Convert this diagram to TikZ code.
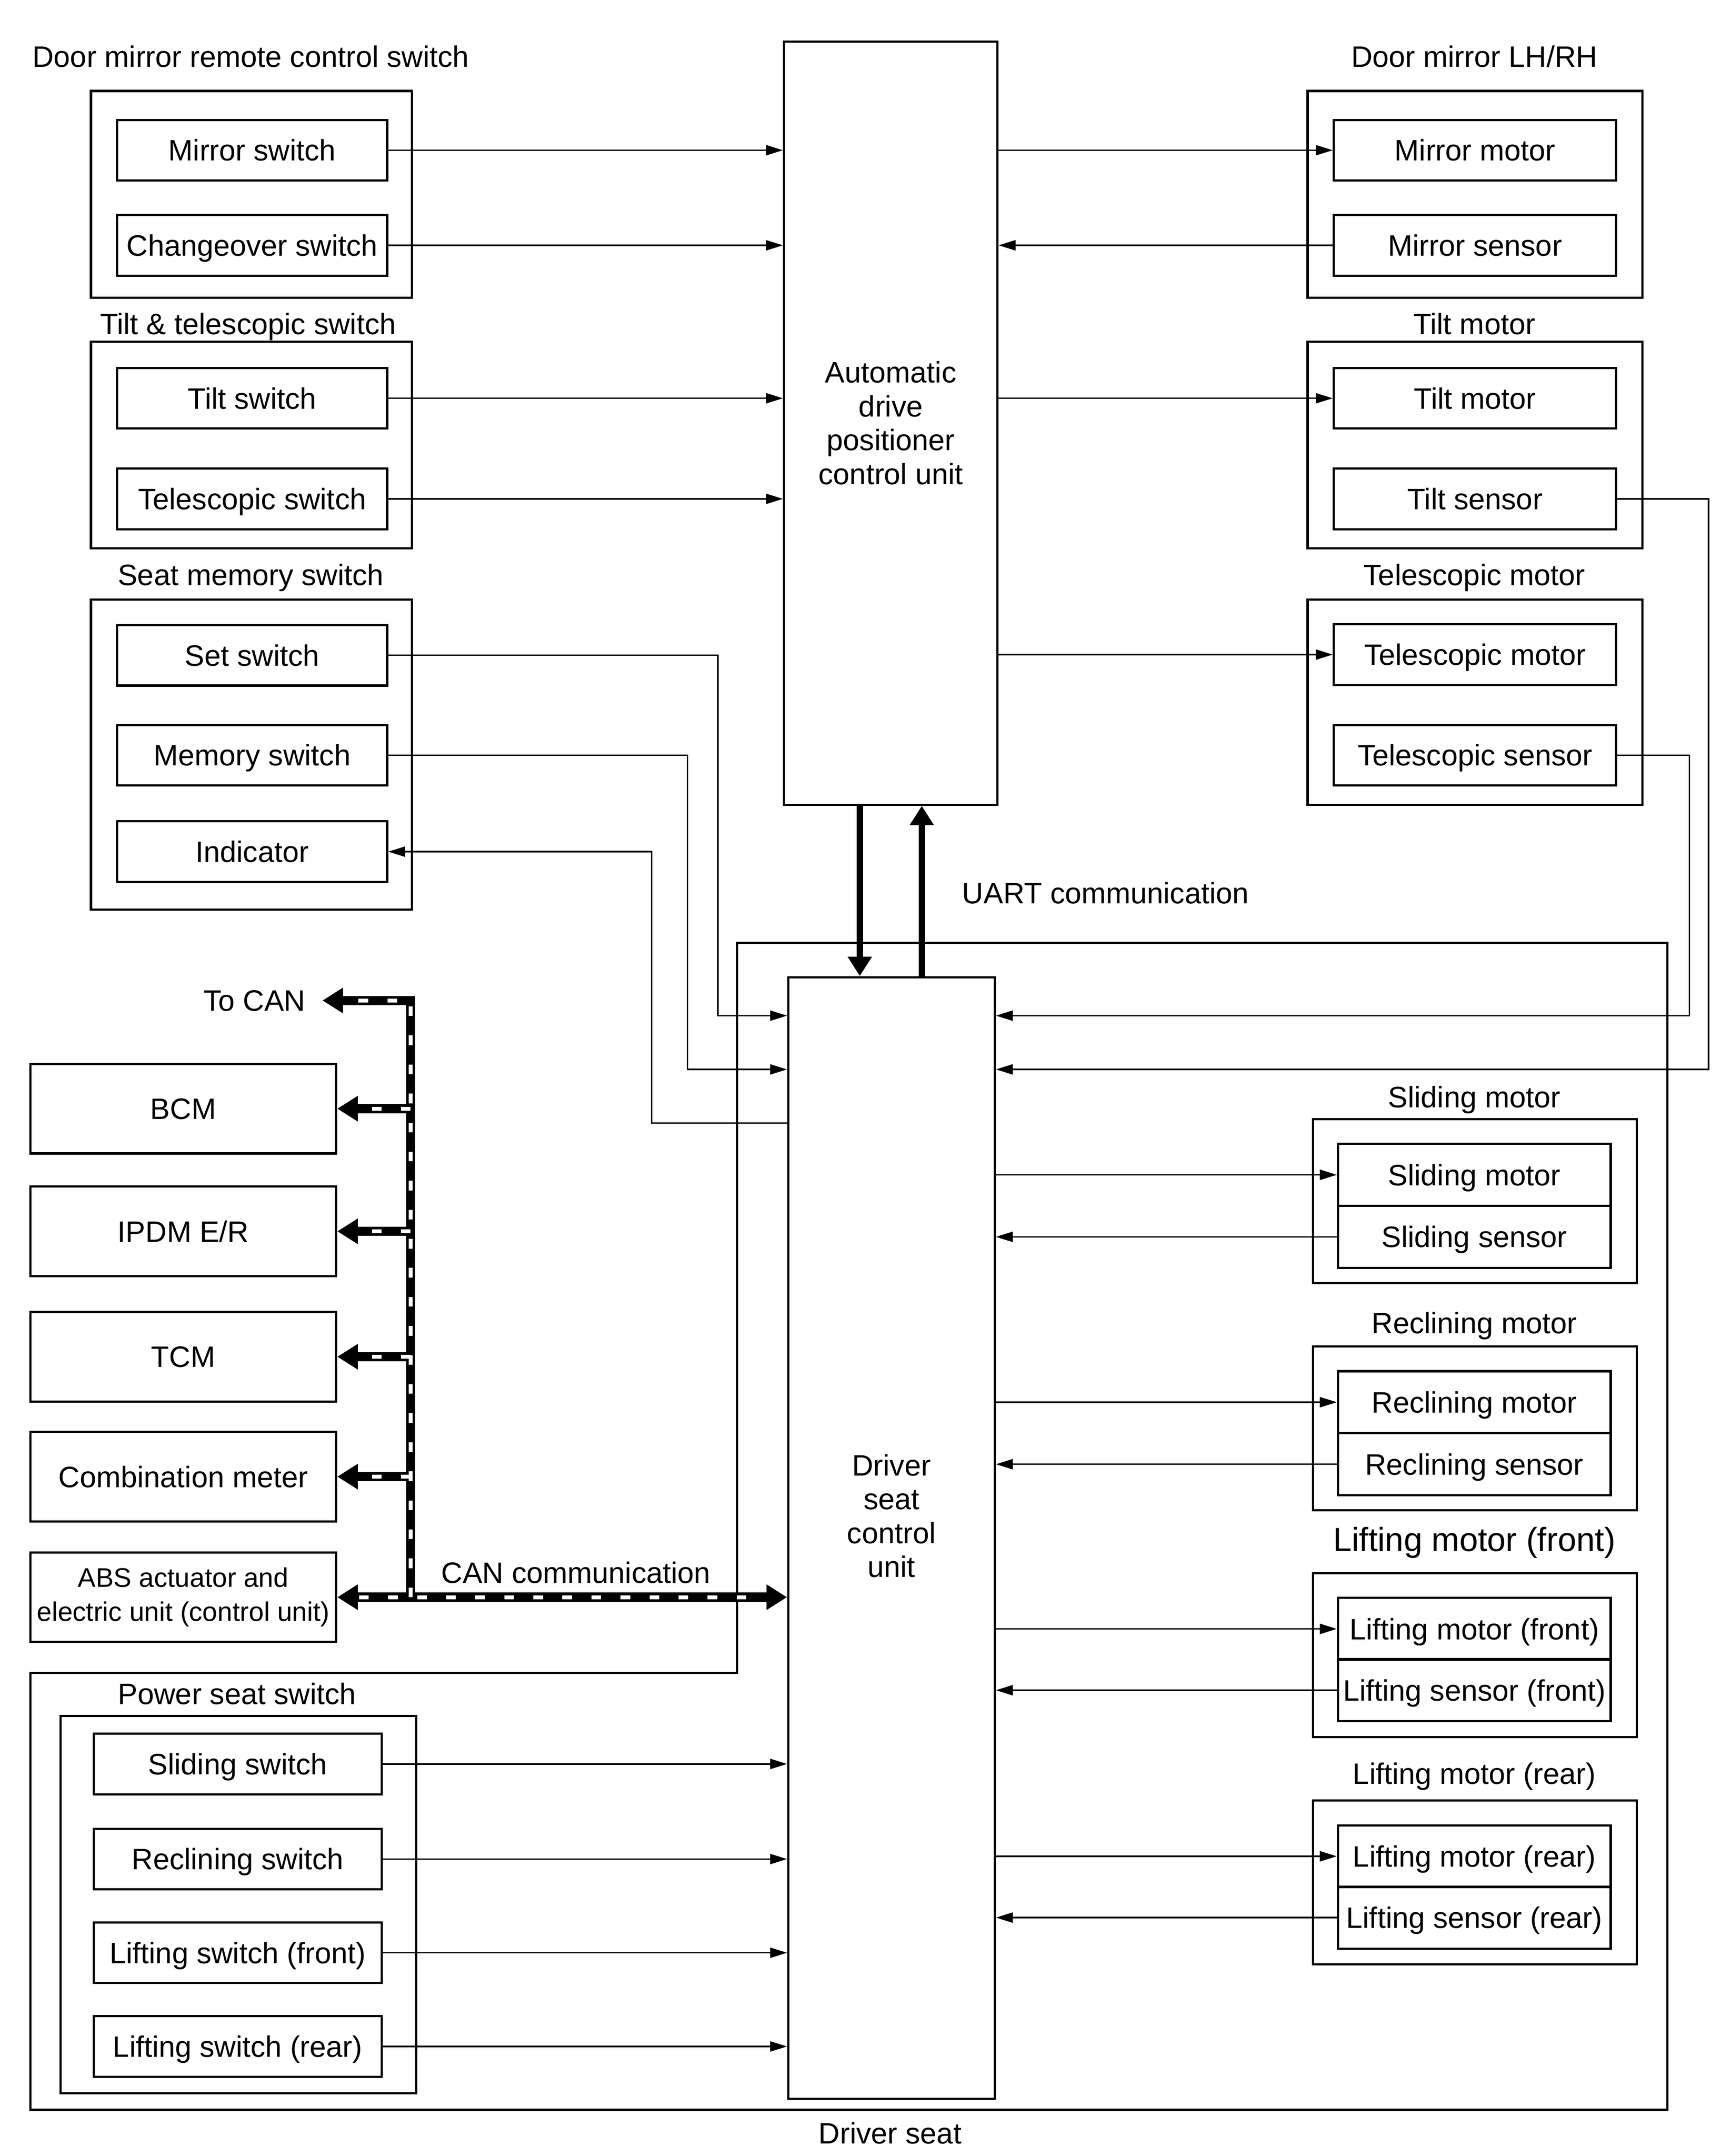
\documentclass[tikz,border=0pt]{standalone}
\usepackage{fontspec}
\setmainfont{Liberation Sans}
\usetikzlibrary{arrows.meta,calc}
\newcommand{\fsz}{\fontsize{12.2pt}{14pt}\selectfont}
\newcommand{\fszb}{\fontsize{13.8pt}{16pt}\selectfont}
\newcommand{\fszs}{\fontsize{11.1pt}{14pt}\selectfont}
\begin{document}
\begin{tikzpicture}[x=0.02cm,y=-0.02cm,
  tx/.style={text height=10.74pt, text depth=2pt},
  mlbl/.style={inner sep=0pt, font=\fsz, align=center},
  lbl/.style={inner sep=0pt, font=\fsz, tx},
  box/.style={draw, line width=0.9pt, inner sep=0pt, font=\fsz},
  outer/.style={draw, line width=0.9pt, inner sep=0pt},
  lsw/.style={box, tx, minimum width=3.92cm, minimum height=0.88cm},
  rsw/.style={box, tx, minimum width=4.10cm, minimum height=0.88cm},
  rlo/.style={box, tx, minimum width=3.96cm, minimum height=0.9cm},
  psw/.style={box, tx, minimum width=4.18cm, minimum height=0.88cm},
  ecu/.style={box, minimum width=4.44cm, minimum height=1.3cm},
  wire/.style={line width=0.6pt, -{Triangle[length=7pt,width=4.2pt]}},
  canblk/.style={line width=3.8pt, black, line join=miter},
  canwht/.style={line width=1.6pt, white, dash pattern=on 4pt off 8pt},
  cantip/.tip={Triangle[length=8.5pt,width=10pt]},
  uart/.style={line width=2.7pt, -{Triangle[length=8pt,width=9.5pt]}}
]
\useasboundingbox (0,0) rectangle (1256,1564.5);

% ---------- titles ----------
\node[lbl] (t1) at (182,41) {Door mirror remote control switch};
\node[lbl] (t2) at (180,235) {Tilt \& telescopic switch};
\node[lbl] (t3) at (182,417) {Seat memory switch};
\node[lbl] (t4) at (1070,41) {Door mirror LH/RH};
\node[lbl] (t5) at (1070,235) {Tilt motor};
\node[lbl] (t6) at (1070,417) {Telescopic motor};
\node[lbl] (t7) at (1070,796) {Sliding motor};
\node[lbl] (t8) at (1070,960) {Reclining motor};
\node[lbl,font=\fszb] (t9) at (1070,1118) {Lifting motor (front)};
\node[lbl] (t10) at (1070,1287) {Lifting motor (rear)};
\node[lbl] (t11) at (172,1229) {Power seat switch};
\node[lbl] (t12) at (646,1548) {Driver seat};
\node[lbl] (t13) at (418,1141) {CAN communication};
\node[lbl,anchor=west] (t14) at (698,648) {UART communication};

% ---------- outer group boxes ----------
\node[outer, minimum width=4.66cm, minimum height=3.0cm] (g1) at (182.5,141) {};
\node[outer, minimum width=4.66cm, minimum height=3.0cm] (g2) at (182.5,323) {};
\node[outer, minimum width=4.66cm, minimum height=4.5cm] (g3) at (182.5,547.5) {};
\node[outer, minimum width=4.86cm, minimum height=3.0cm] (g4) at (1070.5,141) {};
\node[outer, minimum width=4.86cm, minimum height=3.0cm] (g5) at (1070.5,323) {};
\node[outer, minimum width=4.86cm, minimum height=2.98cm] (g6) at (1070.5,509.5) {};
\node[outer, minimum width=4.7cm, minimum height=2.38cm] (g7) at (1070.5,871.5) {};
\node[outer, minimum width=4.7cm, minimum height=2.38cm] (g8) at (1070.5,1036.5) {};
\node[outer, minimum width=4.7cm, minimum height=2.38cm] (g9) at (1070.5,1201) {};
\node[outer, minimum width=4.7cm, minimum height=2.38cm] (g10) at (1070.5,1366) {};
\node[outer, minimum width=5.16cm, minimum height=5.48cm] (g11) at (173,1382) {};

% ---------- driver seat boundary ----------
\draw[line width=0.9pt] (535,684) -- (1210,684) -- (1210,1531) -- (22,1531)
  -- (22,1214) -- (535,1214) -- cycle;

% ---------- left switches ----------
\node[lsw] (msw) at (183,109) {Mirror switch};
\node[lsw] (cosw) at (183,178) {Changeover switch};
\node[lsw] (tsw) at (183,289) {Tilt switch};
\node[lsw] (tesw) at (183,362) {Telescopic switch};
\node[lsw] (setsw) at (183,475.5) {Set switch};
\node[lsw] (memsw) at (183,548) {Memory switch};
\node[lsw] (ind) at (183,618) {Indicator};

% ---------- right motors/sensors ----------
\node[rsw] (mmot) at (1070.5,109) {Mirror motor};
\node[rsw] (msen) at (1070.5,178) {Mirror sensor};
\node[rsw] (tmot) at (1070.5,289) {Tilt motor};
\node[rsw] (tsen) at (1070.5,362) {Tilt sensor};
\node[rsw] (temot) at (1070.5,475) {Telescopic motor};
\node[rsw] (tesen) at (1070.5,548) {Telescopic sensor};

\node[rlo] (slm) at (1070,852.5) {Sliding motor};
\node[rlo] (sls) at (1070,897.5) {Sliding sensor};
\node[rlo] (rem) at (1070,1017.5) {Reclining motor};
\node[rlo] (res) at (1070,1062.5) {Reclining sensor};
\node[rlo] (lfm) at (1070,1182) {Lifting motor (front)};
\node[rlo] (lfs) at (1070,1226.5) {Lifting sensor (front)};
\node[rlo] (lrm) at (1070,1347) {Lifting motor (rear)};
\node[rlo] (lrs) at (1070,1391.5) {Lifting sensor (rear)};

% ---------- control units ----------
\node[box, minimum width=3.1cm, minimum height=11.08cm, align=center] (adp) at (646.5,307)
  {Automatic\\drive\\positioner\\control unit};
\node[outer, minimum width=3.0cm, minimum height=16.28cm] (dscu) at (647,1116) {};
\node[mlbl] (dscutxt) at (647,1100) {Driver\\seat\\control\\unit};

% ---------- CAN ECUs ----------
\node[ecu, tx] (bcm) at (133,804.5) {BCM};
\node[ecu, tx] (ipdm) at (133,893.5) {IPDM E/R};
\node[ecu, tx] (tcm) at (133,984.5) {TCM};
\node[ecu, tx] (comb) at (133,1071.5) {Combination meter};
\node[ecu, font=\fszs, align=center] (abs) at (133,1159) {ABS actuator and\\electric unit (control unit)};
\node[lbl, anchor=east, inner xsep=0.24cm] (tocan) at (234,726) {To CAN};

% ---------- power seat switches ----------
\node[psw] (ssw) at (172.5,1280) {Sliding switch};
\node[psw] (rsw) at (172.5,1349) {Reclining switch};
\node[psw] (lfsw) at (172.5,1417) {Lifting switch (front)};
\node[psw] (lrsw) at (172.5,1485) {Lifting switch (rear)};

% ---------- wires to/from ADP ----------
\draw[wire] (msw.east) -- (msw.east -| adp.west);
\draw[wire] (cosw.east) -- (cosw.east -| adp.west);
\draw[wire] (tsw.east) -- (tsw.east -| adp.west);
\draw[wire] (tesw.east) -- (tesw.east -| adp.west);
\draw[wire] (adp.east |- mmot.west) -- (mmot.west);
\draw[wire] (msen.west) -- (msen.west -| adp.east);
\draw[wire] (adp.east |- tmot.west) -- (tmot.west);
\draw[wire] (adp.east |- temot.west) -- (temot.west);

% ---------- seat memory wires ----------
\coordinate (setb) at (521,737);
\coordinate (memb) at (499,776);
\coordinate (indb) at (473,815);
\draw[wire] (setsw.east) -| (setb) -- (setb -| dscu.west);
\draw[wire] (memsw.east) -| (memb) -- (memb -| dscu.west);
\draw[wire] (indb -| dscu.west) -- (indb) |- (ind.east);

% ---------- sensor return wires ----------
\coordinate (tsb) at (1240,776);
\coordinate (teb) at (1226,737);
\draw[wire] (tsen.east) -| (tsb) -- (tsb -| dscu.east);
\draw[wire] (tesen.east) -| (teb) -- (teb -| dscu.east);

% ---------- seat motors ----------
\draw[wire] (dscu.east |- slm.west) -- (slm.west);
\draw[wire] (sls.west) -- (sls.west -| dscu.east);
\draw[wire] (dscu.east |- rem.west) -- (rem.west);
\draw[wire] (res.west) -- (res.west -| dscu.east);
\draw[wire] (dscu.east |- lfm.west) -- (lfm.west);
\draw[wire] (lfs.west) -- (lfs.west -| dscu.east);
\draw[wire] (dscu.east |- lrm.west) -- (lrm.west);
\draw[wire] (lrs.west) -- (lrs.west -| dscu.east);

% ---------- power seat switch wires ----------
\draw[wire] (ssw.east) -- (ssw.east -| dscu.west);
\draw[wire] (rsw.east) -- (rsw.east -| dscu.west);
\draw[wire] (lfsw.east) -- (lfsw.east -| dscu.west);
\draw[wire] (lrsw.east) -- (lrsw.east -| dscu.west);

% ---------- UART ----------
\path (adp.south) ++(-22.5,0) coordinate (ua) ++(45,0) coordinate (ub);
\draw[uart] (ua) -- (ua |- dscu.north);
\draw[uart] (ub |- dscu.north) -- (ub);

% ---------- CAN bus ----------
\coordinate (busx) at (298,0);
\coordinate (bustop) at (298,726);
\draw[canblk, -cantip] (busx |- abs.east) -- (bustop) -- (tocan.east);
\draw[canblk, -cantip] (busx |- bcm.east) -- (bcm.east);
\draw[canblk, -cantip] (busx |- ipdm.east) -- (ipdm.east);
\draw[canblk, -cantip] (busx |- tcm.east) -- (tcm.east);
\draw[canblk, -cantip] (busx |- comb.east) -- (comb.east);
\draw[canblk, cantip-cantip] (abs.east) -- (abs.east -| dscu.west);

\draw[canwht, shorten >=9pt] (busx |- abs.east) -- (bustop) -- (tocan.east);
\draw[canwht, shorten >=9pt] (busx |- bcm.east) -- (bcm.east);
\draw[canwht, shorten >=9pt] (busx |- ipdm.east) -- (ipdm.east);
\draw[canwht, shorten >=9pt] (busx |- tcm.east) -- (tcm.east);
\draw[canwht, shorten >=9pt] (busx |- comb.east) -- (comb.east);
\draw[canwht, shorten >=9pt, shorten <=9pt] (abs.east) -- (abs.east -| dscu.west);
\end{tikzpicture}
\end{document}
